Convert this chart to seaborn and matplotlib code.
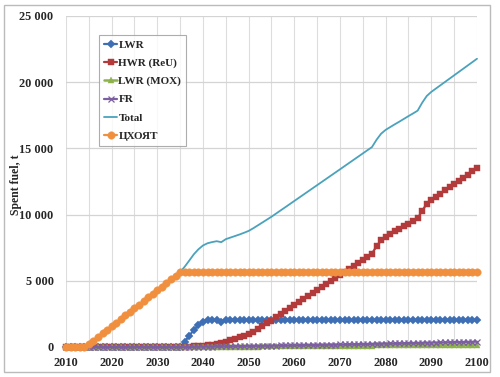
import matplotlib
matplotlib.use("Agg")
import matplotlib.pyplot as plt
import matplotlib.ticker as mticker
from matplotlib.patches import Rectangle
import seaborn as sns
import pandas as pd

years = list(range(2010, 2101))

lwr = [0, 0, 0, 0, 0, 0, 0, 0, 0, 0,
       0, 0, 0, 0, 0, 0, 0, 0, 0, 0,
       0, 0, 0, 0, 0, 0, 400, 850, 1300, 1650,
       1900, 2020, 2050, 2050, 1900, 2030, 2040, 2040, 2040, 2040,
       2040, 2040, 2040, 2040, 2040, 2040, 2040, 2040, 2040, 2040,
       2040, 2040, 2040, 2040, 2040, 2040, 2040, 2040, 2040, 2040,
       2040, 2040, 2040, 2040, 2040, 2040, 2040, 2040, 2040, 2040,
       2040, 2040, 2040, 2040, 2040, 2040, 2040, 2040, 2040, 2040,
       2040, 2040, 2040, 2040, 2040, 2040, 2040, 2040, 2040, 2040,
       2040]

hwr = [0, 0, 0, 0, 0, 0, 0, 0, 0, 0,
       0, 0, 0, 0, 0, 0, 0, 0, 0, 0,
       0, 0, 0, 0, 0, 0, 10, 20, 40, 60,
       90, 130, 180, 240, 310, 400, 500, 610, 720, 840,
       970, 1160, 1370, 1580, 1790, 2000, 2230, 2460, 2690, 2920,
       3150, 3380, 3610, 3840, 4070, 4300, 4530, 4760, 4990, 5220,
       5450, 5680, 5910, 6140, 6370, 6600, 6830, 7060, 7600, 8050,
       8330, 8530, 8730, 8920, 9120, 9320, 9510, 9710, 10300, 10800,
       11100, 11340, 11580, 11820, 12060, 12300, 12540, 12780, 13020, 13260,
       13500]

lwr_mox = [0, 0, 0, 0, 0, 0, 0, 0, 0, 0,
           0, 0, 0, 0, 0, 0, 0, 0, 0, 0,
           0, 0, 0, 0, 0, 0, 0, 0, 0, 0,
           3, 5, 8, 10, 13, 15, 18, 20, 23, 26,
           30, 33, 36, 39, 42, 45, 48, 51, 54, 57,
           60, 63, 66, 69, 72, 75, 78, 81, 84, 87,
           90, 93, 96, 99, 102, 105, 108, 111, 114, 117,
           120, 123, 126, 129, 132, 135, 138, 141, 144, 147,
           150, 153, 156, 159, 162, 165, 168, 171, 174, 177,
           180]

fr = [0, 0, 0, 0, 0, 0, 0, 0, 0, 0,
      0, 0, 0, 0, 0, 0, 0, 0, 0, 0,
      0, 0, 0, 0, 0, 5, 8, 12, 16, 20,
      25, 30, 35, 40, 45, 50, 55, 60, 65, 72,
      78, 83, 88, 93, 98, 104, 109, 114, 119, 124,
      130, 136, 142, 148, 154, 160, 166, 172, 178, 184,
      190, 197, 204, 211, 218, 225, 232, 239, 246, 253,
      260, 267, 274, 281, 288, 295, 302, 309, 316, 323,
      330, 337, 344, 351, 358, 365, 372, 379, 386, 393,
      400]

total = [0, 0, 0, 0, 0, 200, 470, 740, 1020, 1290,
         1560, 1830, 2100, 2380, 2650, 2920, 3190, 3460, 3740, 4010,
         4280, 4550, 4820, 5100, 5370, 5655, 6068, 6532, 7006, 7380,
         7668, 7835, 7923, 7990, 7918, 8145, 8263, 8380, 8498, 8628,
         8768, 8966, 9184, 9402, 9620, 9839, 10077, 10315, 10553, 10791,
         11030, 11269, 11508, 11747, 11986, 12225, 12464, 12703, 12942, 13181,
         13420, 13660, 13900, 14140, 14380, 14620, 14860, 15100, 15650, 16110,
         16400, 16610, 16820, 17020, 17230, 17440, 17640, 17850, 18450, 18960,
         19270, 19520, 19770, 20020, 20270, 20520, 20770, 21020, 21270, 21520,
         21770]

tsnf = [0, 0, 0, 0, 0, 200, 470, 740, 1020, 1290,
        1560, 1830, 2100, 2380, 2650, 2920, 3190, 3460, 3740, 4010,
        4280, 4550, 4820, 5100, 5370, 5650, 5650, 5650, 5650, 5650,
        5650, 5650, 5650, 5650, 5650, 5650, 5650, 5650, 5650, 5650,
        5650, 5650, 5650, 5650, 5650, 5650, 5650, 5650, 5650, 5650,
        5650, 5650, 5650, 5650, 5650, 5650, 5650, 5650, 5650, 5650,
        5650, 5650, 5650, 5650, 5650, 5650, 5650, 5650, 5650, 5650,
        5650, 5650, 5650, 5650, 5650, 5650, 5650, 5650, 5650, 5650,
        5650, 5650, 5650, 5650, 5650, 5650, 5650, 5650, 5650, 5650,
        5650]

series_names = ["LWR", "HWR (ReU)", "LWR (MOX)", "FR", "Total", "ЦХОЯТ"]
series_values = [lwr, hwr, lwr_mox, fr, total, tsnf]
colors = ["#3E6FB5", "#B23A3A", "#8DB14C", "#7B5FA0", "#4AA2BC", "#F0903F"]
markers = ["D", "s", "^", "x", None, "o"]
msizes = [4.2, 4.0, 4.4, 4.0, 0, 5.4]
lwidths = [1.6, 1.6, 1.8, 1.6, 1.3, 1.6]

sns.set_theme(style="white")
plt.rcParams["font.family"] = ["Liberation Serif", "DejaVu Serif"]
plt.rcParams["font.weight"] = "bold"

fig = plt.figure(figsize=(5.0, 3.77), dpi=100)
ax = fig.add_axes([0.132, 0.0796, 0.822, 0.878])

for name, vals, c, m, ms, lw in zip(series_names, series_values, colors, markers, msizes, lwidths):
    df = pd.DataFrame({"year": years, "value": vals})
    kw = dict(marker=m, markersize=ms, markeredgewidth=0.9 if m == "x" else 0.3,
              markeredgecolor=c, markerfacecolor=c) if m else {}
    sns.lineplot(data=df, x="year", y="value", ax=ax, color=c, linewidth=lw,
                 label=name, clip_on=False, **kw)

ax.set_xlim(2010, 2100)
ax.set_ylim(0, 25000)
ax.xaxis.set_major_locator(mticker.MultipleLocator(10))
ax.xaxis.set_minor_locator(mticker.MultipleLocator(5))
ax.yaxis.set_major_locator(mticker.MultipleLocator(5000))
ax.yaxis.set_major_formatter(mticker.FuncFormatter(lambda v, p: f"{int(v):,}".replace(",", " ")))
ax.grid(True, which="both", axis="x", color="#DDDDDD", linewidth=0.8)
ax.grid(True, which="major", axis="y", color="#D4D4D4", linewidth=0.9)
ax.set_axisbelow(True)
for s in ax.spines.values():
    s.set_visible(False)
ax.tick_params(axis="both", which="both", length=0, labelsize=8.8)
ax.tick_params(axis="y", pad=9)
ax.tick_params(axis="x", pad=7)
for lab in ax.get_xticklabels() + ax.get_yticklabels():
    lab.set_fontweight("bold")
ax.set_xlabel("")
ax.set_ylabel("Spent fuel, t", fontsize=8.5, fontweight="bold")
ax.yaxis.set_label_coords(-0.108, 0.49)

leg = ax.legend(loc="upper left", bbox_to_anchor=(0.08, 0.943), frameon=True, fancybox=False,
                edgecolor="#999999", fontsize=8, labelspacing=0.75, handlelength=1.2,
                handletextpad=0.1, borderpad=0.45, borderaxespad=0)
leg.get_frame().set_linewidth(0.8)
for t in leg.get_texts():
    t.set_fontweight("bold")

fig.patches.append(Rectangle((4 / 500, 1 - 372 / 377), 486 / 500, 367 / 377,
                             transform=fig.transFigure, fill=False,
                             edgecolor="#BBBBBB", linewidth=1.0))

fig.savefig("out.png", dpi=100)
